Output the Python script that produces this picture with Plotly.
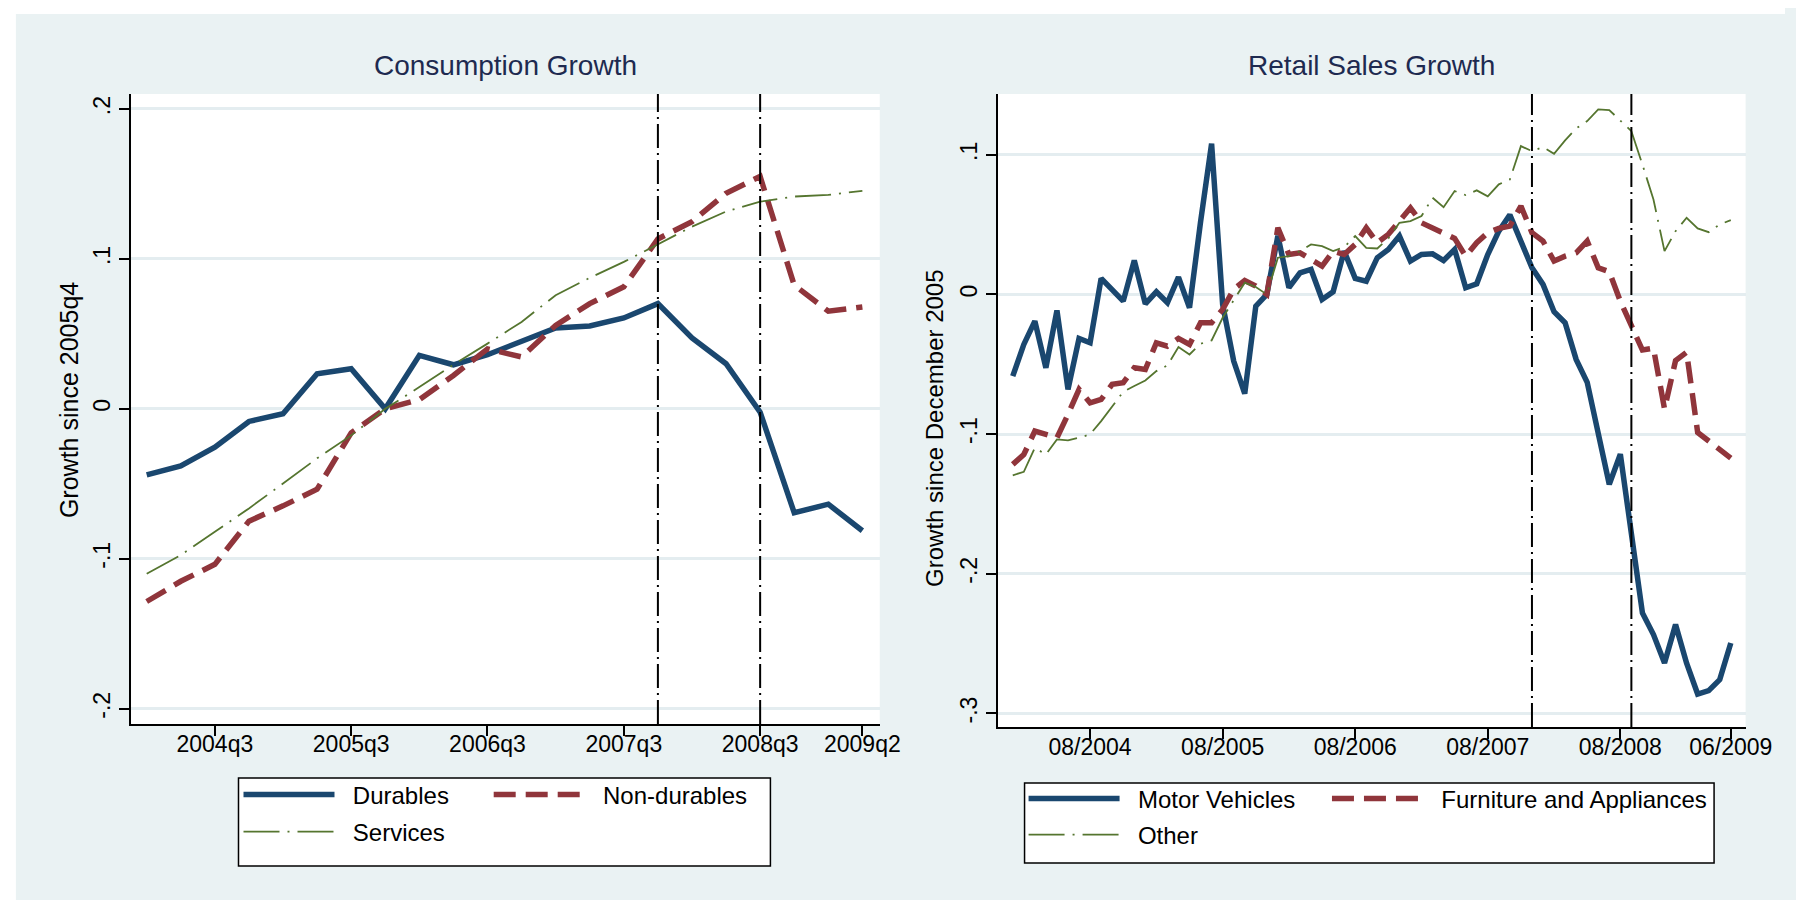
import plotly.graph_objects as go

# ---------------- data: Consumption Growth (quarterly) ----------------
quarters = [f"{y}q{q}" for y in range(2004, 2010) for q in range(1, 5)][:22]
durables = [-0.044, -0.038, -0.0255, -0.0084, -0.0033, 0.0234, 0.0268, 0.0, 0.0357, 0.0294,
            0.0361, 0.0446, 0.054, 0.0553, 0.0606, 0.0702, 0.0473, 0.0301, -0.0022, -0.0693,
            -0.0636, -0.0813]
nondurables = [-0.1285, -0.115, -0.1037, -0.0749, -0.0647, -0.0536, -0.016, 0.0, 0.0062, 0.0223,
               0.040, 0.0346, 0.0557, 0.0702, 0.0814, 0.1133, 0.1249, 0.1438, 0.155, 0.0825,
               0.0651, 0.068]
services = [-0.110, -0.0975, -0.082, -0.0664, -0.0498, -0.033, -0.0177, 0.0, 0.0145, 0.0294,
            0.0435, 0.058, 0.0758, 0.0874, 0.098, 0.110, 0.1215, 0.1316, 0.1382, 0.1416,
            0.1427, 0.1454]
q_ticks = ["2004q3", "2005q3", "2006q3", "2007q3", "2008q3", "2009q2"]
q_lines = ["2007q4", "2008q3"]
left_yticks = [-0.2, -0.1, 0, 0.1, 0.2]
left_ytext = ["-.2", "-.1", "0", ".1", ".2"]

# ---------------- data: Retail Sales Growth (monthly) ----------------
months = [f"{m:02d}/{y}" for y in range(2004, 2010) for m in range(1, 13)][:66]
motor = [-0.0585, -0.0358, -0.0191, -0.0525, -0.0115, -0.068, -0.0315, -0.0346, 0.0115, 0.0036,
         -0.0048, 0.0243, -0.0067, 0.0019, -0.006, 0.0124, -0.0095, 0.052, 0.1079, -0.0072,
         -0.0477, -0.0711, -0.0084, 0.0, 0.042, 0.0048, 0.0155, 0.0179, -0.0036, 0.0019,
         0.031, 0.0115, 0.0095, 0.0263, 0.0322, 0.0418, 0.0239, 0.0286, 0.0291, 0.0243,
         0.0322, 0.0048, 0.0076, 0.0286, 0.0453, 0.057, 0.039, 0.0191, 0.0072, -0.0124,
         -0.0203, -0.0465, -0.0629, -0.100, -0.136, -0.1144, -0.172, -0.228, -0.2435, -0.2639,
         -0.2364, -0.264, -0.2861, -0.2837, -0.2758, -0.2495]
furniture = [-0.1217, -0.1146, -0.0979, -0.1002, -0.1026, -0.0859, -0.068, -0.0776, -0.0752, -0.0644,
             -0.0632, -0.0525, -0.0537, -0.0346, -0.037, -0.0315, -0.0358, -0.0203, -0.0203, -0.0107,
             0.0036, 0.01, 0.006, 0.0, 0.0477, 0.0286, 0.0298, 0.025, 0.0203, 0.031,
             0.0286, 0.0358, 0.0477, 0.037, 0.043, 0.0525, 0.062, 0.0513, 0.0477, 0.0442,
             0.0401, 0.0274, 0.037, 0.0442, 0.0473, 0.049, 0.0632, 0.0442, 0.0382, 0.0239,
             0.0274, 0.0298, 0.0382, 0.0191, 0.0162, -0.0048, -0.0227, -0.0398, -0.0385, -0.082,
             -0.0474, -0.0414, -0.0988, -0.1048, -0.112, -0.1172]
other = [-0.1295, -0.127, -0.1098, -0.1146, -0.1038, -0.1045, -0.1026, -0.1002, -0.0907, -0.080,
         -0.0697, -0.0656, -0.0616, -0.0549, -0.0508, -0.0377, -0.043, -0.0353, -0.0329, -0.0167,
         -0.0043, 0.0084, 0.0053, 0.0, 0.0263, 0.0274, 0.031, 0.0358, 0.0346, 0.031,
         0.0339, 0.0418, 0.0334, 0.0329, 0.0401, 0.0513, 0.0525, 0.0561, 0.0692, 0.0625,
         0.074, 0.0711, 0.0745, 0.0702, 0.0788, 0.0823, 0.1062, 0.1026, 0.1055, 0.1007,
         0.1103, 0.1189, 0.1241, 0.1325, 0.132, 0.1246, 0.1169, 0.093, 0.068, 0.031,
         0.0453, 0.0549, 0.0473, 0.0446, 0.0501, 0.0532]
m_ticks = ["08/2004", "08/2005", "08/2006", "08/2007", "08/2008", "06/2009"]
m_lines = ["12/2007", "09/2008"]
right_yticks = [-0.3, -0.2, -0.1, 0, 0.1]
right_ytext = ["-.3", "-.2", "-.1", "0", ".1"]

# ---------------- style ----------------
W, H = 1804, 900
NAVY, MAROON, GREEN = "#1A476F", "#90353B", "#55752F"
BG = "#EAF2F3"
GRID = "#E4EDF0"
FONT = "Liberation Sans, Arial, sans-serif"
TITLE_C = "#1E2A50"
DASH_RED = "22px,10px"
DASH_GREEN = "36px,8px,2px,8px"
DASH_V = "24px,5px,2px,5px"
GAP = "\u00a0\u00a0"  # spacing between legend key and label


def fx(px):
    return px / W


def fy(py):
    return 1 - py / H


qx = list(range(len(quarters)))
mx = list(range(len(months)))

fig = go.Figure()
fig.add_trace(go.Scatter(x=qx, y=durables, text=quarters, mode="lines", name=GAP + "Durables",
                         line=dict(color=NAVY, width=5.5), xaxis="x", yaxis="y", legend="legend"))
fig.add_trace(go.Scatter(x=qx, y=nondurables, text=quarters, mode="lines", name=GAP + "Non-durables",
                         line=dict(color=MAROON, width=5.5, dash=DASH_RED), xaxis="x", yaxis="y",
                         legend="legend2"))
fig.add_trace(go.Scatter(x=qx, y=services, text=quarters, mode="lines", name=GAP + "Services",
                         line=dict(color=GREEN, width=1.8, dash=DASH_GREEN), xaxis="x", yaxis="y",
                         legend="legend3"))
fig.add_trace(go.Scatter(x=mx, y=motor, text=months, mode="lines", name=GAP + "Motor Vehicles",
                         line=dict(color=NAVY, width=5.5), xaxis="x2", yaxis="y2", legend="legend4"))
fig.add_trace(go.Scatter(x=mx, y=furniture, text=months, mode="lines",
                         name=GAP + "Furniture and Appliances",
                         line=dict(color=MAROON, width=5.5, dash=DASH_RED), xaxis="x2", yaxis="y2",
                         legend="legend5"))
fig.add_trace(go.Scatter(x=mx, y=other, text=months, mode="lines", name=GAP + "Other",
                         line=dict(color=GREEN, width=1.8, dash=DASH_GREEN), xaxis="x2", yaxis="y2",
                         legend="legend6"))

tickfont = dict(family=FONT, size=23, color="black")
common_x = dict(showgrid=False, zeroline=False, showline=True, linecolor="black", linewidth=1.5,
                ticks="outside", ticklen=10, tickwidth=1.5, tickcolor="black", tickfont=tickfont,
                ticklabelstandoff=-11)
common_y = dict(showgrid=True, gridcolor=GRID, gridwidth=2.5, zeroline=False, showline=True,
                linecolor="black", linewidth=1.5, ticks="outside", ticklen=10, tickwidth=1.5,
                tickcolor="black", tickfont=tickfont, tickangle=-90)

fig.update_layout(
    xaxis=dict(domain=[fx(125), fx(885)], anchor="y", range=[-0.457, 21.51],
               tickvals=[quarters.index(t) for t in q_ticks], ticktext=q_ticks, **common_x),
    yaxis=dict(domain=[fy(716), fy(86)], anchor="x", range=[-0.2102, 0.2100],
               tickvals=left_yticks, ticktext=left_ytext, **common_y),
    xaxis2=dict(domain=[fx(1005), fx(1764)], anchor="y2", range=[-1.34, 66.34],
                tickvals=[months.index(t) for t in m_ticks], ticktext=m_ticks, **common_x),
    yaxis2=dict(domain=[fy(719), fy(86)], anchor="x2", range=[-0.3097, 0.1435],
                tickvals=right_yticks, ticktext=right_ytext, **common_y),
)

legend_common = dict(orientation="h", xanchor="left", yanchor="middle", xref="paper", yref="paper",
                     bgcolor="rgba(0,0,0,0)", borderwidth=0, itemwidth=91,
                     font=dict(family=FONT, size=24, color="black"))
fig.update_layout(
    legend=dict(x=fx(234), y=fy(787), **legend_common),
    legend2=dict(x=fx(488), y=fy(787), **legend_common),
    legend3=dict(x=fx(234), y=fy(824), **legend_common),
    legend4=dict(x=fx(1031), y=fy(791), **legend_common),
    legend5=dict(x=fx(1339), y=fy(791), **legend_common),
    legend6=dict(x=fx(1031), y=fy(827), **legend_common),
)

shapes = [
    # white border strips
    dict(type="rect", xref="paper", yref="paper", x0=0, x1=fx(8), y0=0, y1=1,
         fillcolor="white", line=dict(width=0), layer="below"),
    dict(type="rect", xref="paper", yref="paper", x0=0, x1=1, y0=fy(6), y1=1,
         fillcolor="white", line=dict(width=0), layer="below"),
    # legend boxes
    dict(type="rect", xref="paper", yref="paper", x0=fx(234), x1=fx(774), y0=fy(858), y1=fy(770),
         fillcolor="white", line=dict(color="black", width=1.5), layer="below"),
    dict(type="rect", xref="paper", yref="paper", x0=fx(1032), x1=fx(1732), y0=fy(855), y1=fy(775),
         fillcolor="white", line=dict(color="black", width=1.5), layer="below"),
]
for q in q_lines:
    shapes.append(dict(type="line", xref="x", yref="y domain", x0=quarters.index(q), x1=quarters.index(q),
                       y0=0, y1=1, line=dict(color="black", width=2, dash=DASH_V), layer="above"))
for m in m_lines:
    shapes.append(dict(type="line", xref="x2", yref="y2 domain", x0=months.index(m), x1=months.index(m),
                       y0=0, y1=1, line=dict(color="black", width=2, dash=DASH_V), layer="above"))

annotations = [
    dict(text="Consumption Growth", xref="paper", yref="paper", x=fx(505), y=fy(58),
         xanchor="center", yanchor="middle", showarrow=False,
         font=dict(family=FONT, size=28, color=TITLE_C)),
    dict(text="Retail Sales Growth", xref="paper", yref="paper", x=fx(1384.5), y=fy(58),
         xanchor="center", yanchor="middle", showarrow=False,
         font=dict(family=FONT, size=28, color=TITLE_C)),
    # y-axis titles
    dict(text="Growth since 2005q4", xref="paper", yref="paper", x=fx(62), y=fy(392),
         xanchor="center", yanchor="middle", showarrow=False, textangle=-90,
         font=dict(family=FONT, size=25, color="black")),
    dict(text="Growth since December 2005", xref="paper", yref="paper", x=fx(940), y=fy(420),
         xanchor="center", yanchor="middle", showarrow=False, textangle=-90,
         font=dict(family=FONT, size=24, color="black")),
]

fig.update_layout(
    width=W, height=H, autosize=False,
    margin=dict(l=0, r=0, t=0, b=0),
    paper_bgcolor=BG, plot_bgcolor="white",
    shapes=shapes, annotations=annotations,
    showlegend=True, hovermode="closest",
)

fig.write_html("out.html")
